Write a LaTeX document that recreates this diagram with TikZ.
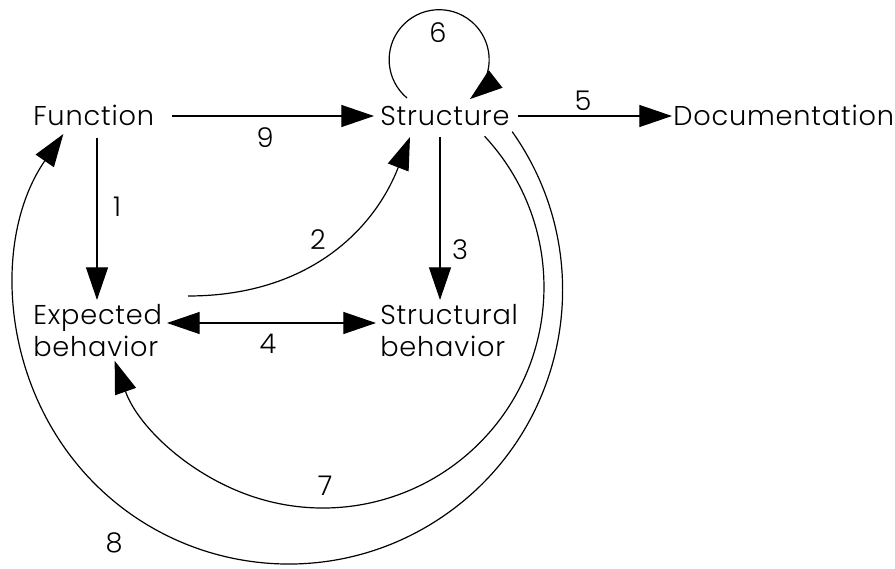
\documentclass[tikz,border=0pt]{standalone}
\usepackage{fontspec}
\setmainfont{Poppins}[UprightFont={* Light},LetterSpace=3]
\usetikzlibrary{arrows.meta,calc}
\tikzset{
  lbl/.style={inner sep=0pt, font=\fontsize{20.4}{24}\selectfont, align=left},
  one/.style={lbl, anchor=base west, text height=14.25pt, text depth=0pt},
  num/.style={inner sep=0pt, font=\fontsize{20.4}{24}\selectfont},
  tip/.style={Triangle[length=24.5pt,width=16.5pt]},
  arr/.style={-{Triangle[length=24.5pt,width=16.5pt]}, line width=0.9pt},
  darr/.style={{Triangle[length=24.5pt,width=16.5pt]}-{Triangle[length=24.5pt,width=16.5pt]}, line width=0.9pt}
}
\begin{document}
\begin{tikzpicture}[x=0.75pt,y=0.75pt]
\useasboundingbox (0,0) rectangle (895,568);
% nodes
\node[one] (F) at (33,442) {Function};
\node[one] (S) at (380,442) {Structure};
\node[one] (D) at (673,442) {Documentation};
\node[lbl, anchor=south west] (E) at (33,211) {Expected\\behavior};
\node[lbl, anchor=south west] (SB) at (380,211) {Structural\\behavior};
% 9
\draw[arr] ($(F.base west)+(139,10)$) -- ($(S.base west)+(-6,10)$);
\node[num] (n9) at (265,430) {9};
% 1
\draw[arr] ($(F.base west)+(64,-12)$) -- ($(E.south west)+(64,57)$);
\node[num] (n1) at (117,361) {1};
% 2
\draw[arr] ($(E.south west)+(155,61)$) .. controls (308,272) and (374,338) .. ($(S.base west)+(30,-11)$);
\node[num] (n2) at (318,328) {2};
% 3
\draw[arr] ($(S.base west)+(60,-11)$) -- ($(SB.south west)+(60,57)$);
\node[num] (n3) at (460,318) {3};
% 4
\draw[darr] ($(E.south west)+(134,34)$) -- ($(SB.south west)+(-4,34)$);
\node[num] (n4) at (268,224) {4};
% 5
\draw[arr] ($(S.base west)+(138,10)$) -- ($(D.base west)+(-1,10)$);
\node[num] (n5) at (583,467) {5};
% 6
\draw[arr] ($(S.base west)+(27,28)$) arc[start angle=230, end angle=-52, radius=50];
\node[num] (n6) at (438,535) {6};
% 7 (circle, centre (323,281), radius 221)
\draw[arr] ($(S.base west)+(104.6,-10.3)$) arc[start angle=43, end angle=-160.5, radius=221];
\node[num] (n7) at (325,82) {7};
% 8 (circle, centre (288.5,278), radius 274)
\draw[arr] ($(S.base west)+(132.2,-5.7)$) arc[start angle=35.3, end angle=-214.7, radius=274];
\node[num] (n8) at (114,25) {8};
\end{tikzpicture}
\end{document}
